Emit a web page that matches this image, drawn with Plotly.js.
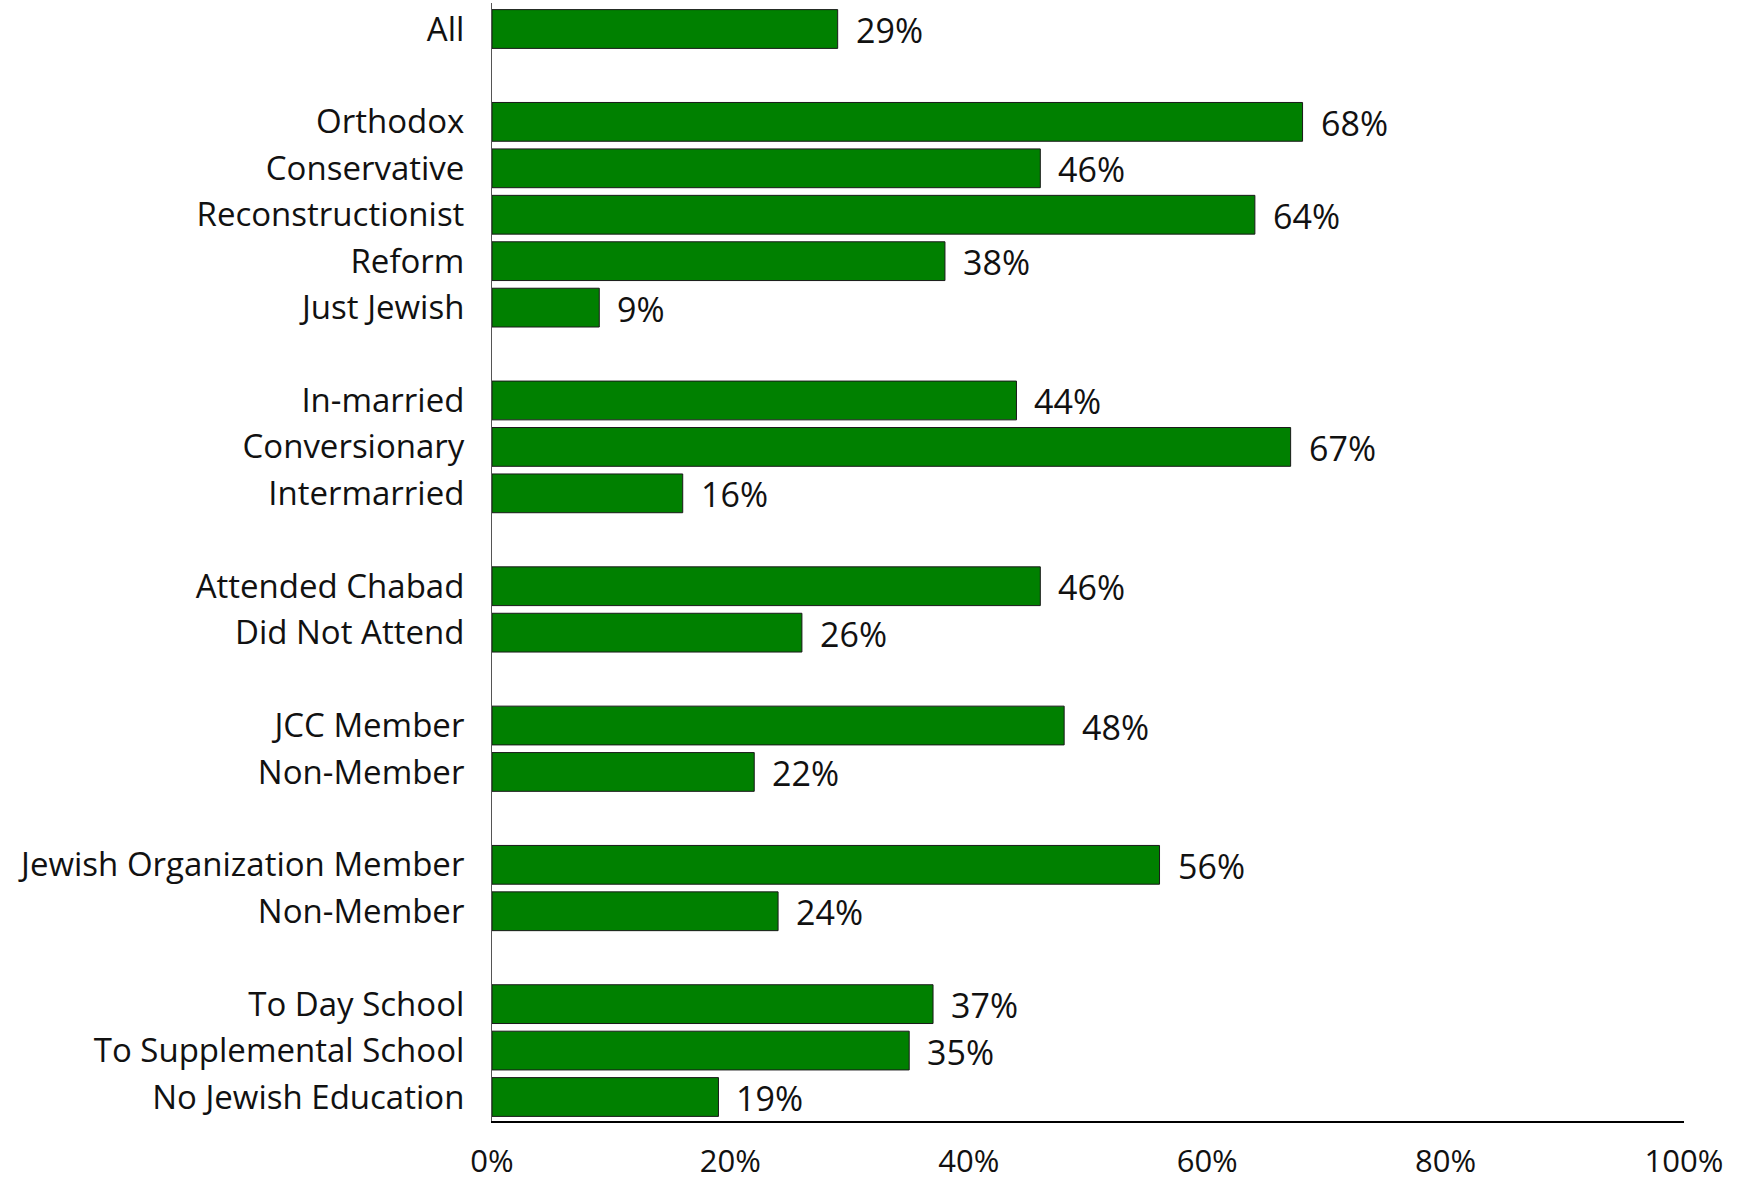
<!DOCTYPE html>
<html>
<head>
<meta charset="utf-8">
<script src="https://cdn.plot.ly/plotly-3.0.1.min.js"></script>
<style>html,body{margin:0;padding:0;background:#fff;}#chart{width:1739px;height:1181px;}</style>
</head>
<body>
<div id="chart"></div>
<script>
// Groups of categories (a blank spacer row separates groups)
const groupLabels = [
  ["All"],
  ["Orthodox", "Conservative", "Reconstructionist", "Reform", "Just Jewish"],
  ["In-married", "Conversionary", "Intermarried"],
  ["Attended Chabad", "Did Not Attend"],
  ["JCC Member", "Non-Member"],
  ["Jewish Organization Member", "Non-Member"],
  ["To Day School", "To Supplemental School", "No Jewish Education"]
];
const groupValues = [
  [29],
  [68, 46, 64, 38, 9],
  [44, 67, 16],
  [46, 26],
  [48, 22],
  [56, 24],
  [37, 35, 19]
];
const xTickVals = [0, 20, 40, 60, 80, 100];
const xTickText = ["0%", "20%", "40%", "60%", "80%", "100%"];

// Build category ids (unique) with spacer rows between groups
const ids = [], labels = [], values = [], order = [];
let n = 0;
groupLabels.forEach((g, gi) => {
  if (gi > 0) order.push("spacer" + gi);
  g.forEach((lab, i) => {
    const id = "c" + (n++);
    ids.push(id); labels.push(lab); values.push(groupValues[gi][i]);
    order.push(id);
  });
});

const FONT = "Open Sans, sans-serif";
const trace = {
  type: "bar",
  orientation: "h",
  x: values,
  y: ids,
  marker: {color: "#008000", line: {color: "#1a1a1a", width: 1}},
  hoverinfo: "x+y"
};

const annotations = values.map((v, i) => ({
  x: v, y: ids[i], xref: "x", yref: "y",
  text: v + "%", showarrow: false, xanchor: "left", yanchor: "middle",
  xshift: 16, yshift: -1,
  font: {family: FONT, size: 34, color: "#111"}
}));

const layout = {
  width: 1739, height: 1181,
  margin: {l: 492, r: 55, t: 3, b: 60},
  paper_bgcolor: "#fff", plot_bgcolor: "#fff",
  showlegend: false,
  bargap: 0.165,
  font: {family: FONT, size: 33, color: "#111"},
  xaxis: {
    range: [0, 100], tickvals: xTickVals, ticktext: xTickText,
    showgrid: false, zeroline: false, showline: true, linecolor: "#000", linewidth: 1.5,
    ticks: "outside", ticklen: 12, tickcolor: "rgba(0,0,0,0)",
    tickfont: {family: FONT, size: 31, color: "#111"}, fixedrange: true
  },
  yaxis: {
    type: "category", categoryorder: "array", categoryarray: order,
    autorange: "reversed",
    tickvals: ids, ticktext: labels,
    showgrid: false, zeroline: false, showline: true, linecolor: "#555", linewidth: 1,
    ticks: "outside", ticklen: 20, tickcolor: "rgba(0,0,0,0)",
    tickfont: {family: FONT, size: 33, color: "#111"}, fixedrange: true
  },
  annotations: annotations
};

Plotly.newPlot("chart", [trace], layout, {displayModeBar: false, staticPlot: true});
</script>
</body>
</html>
